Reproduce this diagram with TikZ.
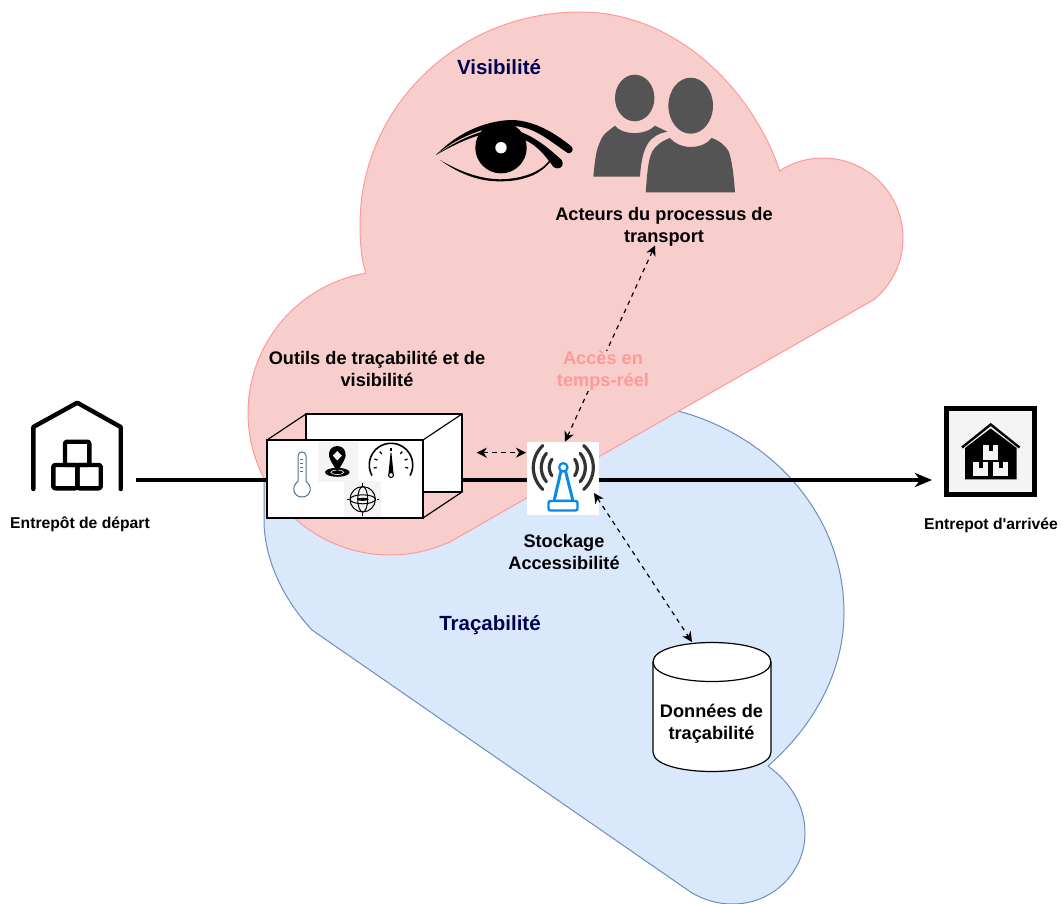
\documentclass[tikz,border=0pt]{standalone}
\usepackage{fontspec}
\setmainfont{Liberation Sans}
\newfontfamily\aposfont{Liberation Sans}
\usetikzlibrary{arrows.meta}
\definecolor{pinkfill}{HTML}{F8CECC}
\definecolor{pinkline}{HTML}{FF9999}
\definecolor{bluefill}{HTML}{DAE8FC}
\definecolor{blueline}{HTML}{6C8EBF}
\definecolor{navy}{HTML}{000050}
\definecolor{people}{HTML}{545454}
\definecolor{antblue}{HTML}{0A8AE8}
\definecolor{antgray}{HTML}{333333}
\definecolor{thermo}{HTML}{4F7391}
\definecolor{iconbg}{HTML}{F4F4F4}
\tikzset{
  x=1pt,y=-1pt,
  lbl/.style={font=\fontsize{18.2}{22}\selectfont\bfseries,align=center,inner sep=0pt},
  smalllbl/.style={font=\fontsize{15.7}{18}\selectfont\bfseries,align=center,inner sep=0pt},
  titlelbl/.style={font=\fontsize{20.5}{24}\selectfont\bfseries,text=navy,inner sep=0pt},
  dashlink/.style={line width=1.2pt,dash pattern=on 4.5pt off 4.5pt,{Stealth[length=10pt,width=10pt,inset=3pt]}-{Stealth[length=10pt,width=10pt,inset=3pt]}},
  mainlink/.style={line width=3.4pt,-{Stealth[length=17pt,width=14pt,inset=5pt]}},
  hold/.style={draw=none,fill=none,inner sep=0pt},
  boxline/.style={draw=black,line width=1.2pt,line join=round},
  housestroke/.style={draw=black,line width=4.4pt,line cap=round,line join=round},
}
\begin{document}
\begin{tikzpicture}
\useasboundingbox (0,0) rectangle (1062,904);
\clip (0,0) rectangle (1062,904);

% blue cloud
\path[fill=bluefill,draw=blueline,line width=1pt]
 (678,411) .. controls (772,436) and (844,515) .. (844,613)
 .. controls (844,670) and (815,725) .. (768,766)
 .. controls (790,782) and (805,805) .. (805,833)
 .. controls (805,873) and (772,904) .. (733,904)
 .. controls (715,904) and (703,899) .. (692,893)
 -- (312,630)
 .. controls (284,600) and (264,560) .. (264,520)
 -- (264,420) -- cycle;

% pink cloud
\path[fill=pinkfill,draw=pinkline,line width=1pt]
 (365.5,272) .. controls (361,258) and (360,240) .. (360,225)
 .. controls (360,107) and (458,12) .. (580,12)
 .. controls (680,12) and (755,95) .. (780,172)
 -- plot[domain=123:-50,samples=60] ({823+80*cos(\x)},{238-80*sin(\x)})
 -- (448,543)
 -- plot[domain=-66:-260,samples=80] ({390+142*cos(\x)},{413-142*sin(\x)})
 -- cycle;

% main line
\coordinate (linestart) at (136,480);
\coordinate (lineend) at (932,480);
\draw[mainlink] (linestart) -- (lineend);

% departure warehouse
\draw[housestroke] (33.3,489) -- (33.3,427) -- (77.3,402.7) -- (120.7,427) -- (120.7,489);
\draw[housestroke,rounded corners=2pt] (53.3,465) rectangle (77.3,488.3);
\draw[housestroke,rounded corners=2pt] (77.3,465) rectangle (100.7,488.3);
\draw[housestroke,rounded corners=2pt] (65,441.7) rectangle (89.3,465);
\node[smalllbl] (deplabel) at (80,524) {Entrepôt de départ};

% arrival warehouse
\node[hold,draw=black,fill=iconbg,line width=5pt,minimum width=88pt,minimum height=86pt] (arr) at (990.5,451.5) {};
\fill[black] (965,448) -- (990.7,428.5) -- (1016.7,448) -- (1016.7,479.3) -- (965,479.3) -- cycle;
\draw[black,line width=2.4pt] (962,447.5) -- (990.7,424.5) -- (1019.5,447.5);
\fill[iconbg] (983.3,445) rectangle (997.7,460);
\fill[iconbg] (973.3,462.3) rectangle (987.7,476);
\fill[iconbg] (993.3,462.3) rectangle (1007.7,476);
\fill[black] (988.5,445) rectangle (992.5,451);
\fill[black] (978.5,462.3) rectangle (982.5,468);
\fill[black] (998.5,462.3) rectangle (1002.5,468);
\node[smalllbl] (arrlabel) at (991,525) {\aposfont\bfseries Entrepot d'arrivée};

% tool box
\draw[boxline,fill=white] (306,414) rectangle (462,492);
\draw[boxline] (267,440) -- (306,414);
\draw[boxline] (423,440) -- (462,414);
\draw[boxline] (423,518) -- (462,492);
\node[hold,draw=black,fill=white,line width=1.2pt,minimum width=156pt,minimum height=78pt] (tools) at (345,479) {};
% thermometer
\draw[thermo,line width=1pt,fill=white]
 (298,481.5) -- (298,456) .. controls (298,450.5) and (306,450.5) .. (306,456) -- (306,481.5)
 .. controls (313,486) and (311,497) .. (302,497) .. controls (293,497) and (291,486) .. (298,481.5) -- cycle;
\foreach \yy in {459,463,467,471} \draw[thermo,line width=.6pt] (300,\yy) -- (303,\yy);
% pin
\fill[iconbg] (318,442) rectangle (358,482);
\fill[black] (337.3,472.3) ellipse [x radius=12.3,y radius=4.5];
\draw[white,line width=.6pt] (337.3,472.3) ellipse [x radius=6.5,y radius=2.2];
\fill[black] (337.3,446) .. controls (331,446) and (328.5,451) .. (329,456) .. controls (330,461) and (334,466) .. (337.3,472)
  .. controls (340.6,466) and (344.6,461) .. (345.6,456) .. controls (346,451) and (343.6,446) .. (337.3,446) -- cycle;
\fill[iconbg] (337.3,451) -- (341.8,455.7) -- (337.3,460.4) -- (332.8,455.7) -- cycle;
% gauge
\draw[black,line width=1.6pt] plot[domain=-29:209,samples=60] ({391+21.7*cos(\x)},{465-21.7*sin(\x)});
\foreach \aa in {-10,20,50,90,130,160,190}
  \draw[black,line width=1.3pt] ({391+14.5*cos(\aa)},{465-14.5*sin(\aa)}) -- ({391+17.5*cos(\aa)},{465-17.5*sin(\aa)});
\fill[black] (390.6,452.5) -- (391.4,452.5) -- (393.5,473) -- (388.5,473) -- cycle;
\draw[black,fill=white,line width=1.1pt] (391,475) circle (2.5);
% gimbal
\fill[iconbg] (344,481) rectangle (381,517);
\draw[black,line width=1pt] (362.7,499.3) circle (12.7);
\draw[black,line width=1pt] (362.7,499.3) ellipse [x radius=5,y radius=12.7];
\draw[black,line width=1pt] (362.7,499.3) ellipse [x radius=12.7,y radius=4.5];
\fill[black] (362.7,499.3) ellipse [x radius=6,y radius=1.5];
\draw[black,line width=.8pt] (362.7,483) -- (362.7,485.5);
\draw[black,line width=.8pt] (362.7,513) -- (362.7,515.5);
\draw[black,line width=.8pt] (346.5,499.3) -- (348.5,499.3);
\draw[black,line width=.8pt] (377,499.3) -- (379,499.3);

% cylinder
\draw[boxline,fill=white] (653,662) -- (653,752) .. controls (653,778) and (771,778) .. (771,752) -- (771,662)
  .. controls (771,636) and (653,636) .. (653,662) -- cycle;
\draw[boxline] (653,662) .. controls (653,688) and (771,688) .. (771,662);
\node[lbl] (db) at (711.5,724) {Données de\\traçabilité};
\coordinate (dbtop) at (692,642);

% antenna
\node[hold,fill=white,minimum width=72pt,minimum height=73pt] (ant) at (563,478.5) {};
\foreach \rr/\aa in {14/36,22/40,30/47} {
  \draw[antgray,line width=3.2pt,line cap=round] plot[domain=-\aa:\aa,samples=20] ({563.3+\rr*cos(\x)},{467.5-\rr*sin(\x)});
  \draw[antgray,line width=3.2pt,line cap=round] plot[domain=180-\aa:180+\aa,samples=20] ({563.3+\rr*cos(\x)},{467.5-\rr*sin(\x)});
}
\draw[antblue,line width=3pt,line join=round] (561,471) -- (554,501) -- (573,501) -- (565.5,471);
\draw[antblue,line width=2.2pt,fill=white] (563.3,467.3) circle (4.2);
\draw[antblue,line width=2.4pt,fill=white,rounded corners=2pt] (548.5,501) rectangle (577.5,510.5);

% eye
\fill[black] (436,155) .. controls (460,130) and (490,120) .. (513,120)
 .. controls (535,121) and (555,133) .. (571.7,146.7)
 .. controls (574,150) and (572,153) .. (568.3,153.3)
 .. controls (548,140) and (535,127) .. (513,126)
 .. controls (490,125) and (460,135) .. (436,155) -- cycle;
\fill[black] (436,155) .. controls (457,140) and (480,130) .. (500,128.3)
 .. controls (525,128) and (545,145) .. (561.7,160)
 .. controls (564,164) and (562,168) .. (558.3,168.3)
 .. controls (556,168.5) and (554.5,168) .. (553.3,166.7)
 .. controls (548,160) and (540,147) .. (525,140)
 .. controls (515,134) and (505,132) .. (500,132)
 .. controls (480,132) and (457,143) .. (436,155) -- cycle;
\fill[black] (440,160) .. controls (462,173) and (482,179) .. (500,179.3)
 .. controls (522,179) and (540,172) .. (548.3,161.7)
 .. controls (549,160) and (550,160) .. (550,162)
 .. controls (540,175) and (522,181.5) .. (500,181.3)
 .. controls (482,181.5) and (462,176) .. (440,160) -- cycle;
\fill[black] (501,147.7) circle (25.7);
\fill[white] (501,147.7) circle (5.7);

% people
\fill[people] (634.7,98) ellipse [x radius=19.7,y radius=23.3];
\fill[people] (593.3,176.7) .. controls (595,160) and (596,150) .. (600,142)
 .. controls (603,133) and (610,130) .. (615,125.7)
 .. controls (622,135) and (645,136) .. (655,125.7)
 -- (667.3,131.7)
 .. controls (650,135) and (642,145) .. (640,176.7) -- cycle;
\fill[people] (690.7,105.7) ellipse [x radius=22.3,y radius=28];
\fill[people] (645.7,192.3) .. controls (647,175) and (648,160) .. (652,152)
 .. controls (656,145) and (662,141) .. (670,138)
 .. controls (680,150) and (702,150) .. (711.7,138)
 .. controls (720,141) and (726,146) .. (729,152)
 .. controls (733,165) and (734,180) .. (735,192.3) -- cycle;

% dashed links
\coordinate (acttip) at (655,245.5);
\coordinate (anttop) at (565,441.7);
\coordinate (antside) at (594,493);
\coordinate (boxtip) at (476.7,452.7);
\coordinate (antleft) at (526,452.7);
\draw[dashlink] (anttop) -- (acttip);
\draw[dashlink] (antside) -- (dbtop);
\draw[dashlink] (boxtip) -- (antleft);

% labels
\node[titlelbl] (vis) at (499,67) {Visibilité};
\node[titlelbl] (trac) at (490,625) {Traçabilité};
\node[lbl] (act) at (664,227) {Acteurs du processus de\\transport};
\node[lbl] (out) at (377,369) {Outils de traçabilité et de\\visibilité};
\node[lbl,text=pinkline,fill=pinkfill] (acces) at (603,371) {Accès en\\temps-réel};
\node[lbl] (stock) at (564,552) {Stockage\\Accessibilité};
\end{tikzpicture}
\end{document}
